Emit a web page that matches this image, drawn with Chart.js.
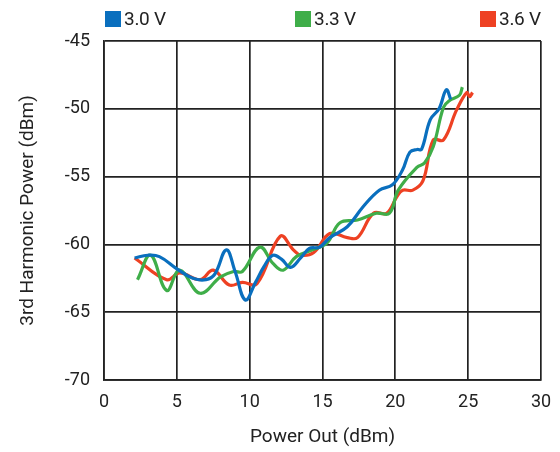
<!DOCTYPE html>
<html>
<head>
<meta charset="utf-8">
<script src="https://cdn.jsdelivr.net/npm/chart.js@4"></script>
<style>
  body { margin: 0; background: #fff; }
  #wrap { position: relative; width: 560px; height: 452px; }
  .leg { position: absolute; top: 7px; font-family: Roboto, sans-serif; font-size: 19px; color: #222; display: flex; align-items: center; letter-spacing: -0.3px; }
  .leg span { display: inline-block; width: 16px; height: 16px; margin-right: 3px; }
</style>
</head>
<body>
<div id="wrap">
  <canvas id="chart" width="560" height="452"></canvas>
  <div class="leg" style="left:105px"><span style="background:#0a6fbe"></span>3.0 V</div>
  <div class="leg" style="left:295px"><span style="background:#3fae49"></span>3.3 V</div>
  <div class="leg" style="left:480px"><span style="background:#ee4123"></span>3.6 V</div>
</div>
<script>
// Datos (Power Out en dBm, 3er armónico en dBm)
const x30 = [2.1, 3.0, 3.8, 5.0, 6.1, 7.0, 7.6, 8.4, 9.0, 9.7, 10.4, 11.0, 11.6, 12.2, 12.8, 13.5, 14.1, 14.8, 15.5, 16.7, 17.8, 18.9, 19.8, 20.5, 21.0, 21.5, 21.8, 22.4, 23.0, 23.5, 23.8];
const y30 = [-61.0, -60.8, -60.9, -61.8, -62.5, -62.6, -62.2, -60.4, -62.0, -64.1, -62.8, -61.6, -60.8, -61.1, -61.7, -61.0, -60.3, -60.2, -59.5, -58.7, -57.2, -56.0, -55.6, -54.5, -53.2, -53.0, -53.0, -50.8, -50.0, -48.6, -49.3];

const x33 = [2.3, 3.2, 4.3, 5.2, 6.6, 8.0, 8.9, 9.5, 10.7, 11.6, 12.3, 13.2, 14.3, 15.3, 16.2, 17.4, 18.7, 19.6, 20.2, 21.5, 22.0, 22.6, 23.3, 23.7, 24.4, 24.6];
const y33 = [-62.6, -60.8, -63.4, -61.9, -63.6, -62.4, -62.0, -62.0, -60.2, -61.4, -61.9, -60.9, -60.4, -59.9, -58.4, -58.2, -57.7, -57.7, -56.0, -54.3, -54.0, -52.8, -49.9, -49.4, -49.0, -48.4];

const x36 = [2.1, 4.3, 5.2, 6.6, 7.5, 8.6, 9.5, 10.5, 12.1, 13.0, 13.5, 14.4, 15.5, 16.7, 17.4, 18.5, 19.4, 20.1, 20.5, 21.2, 21.9, 22.6, 23.3, 24.2, 24.9, 25.1, 25.3];
const y36 = [-61.0, -62.6, -62.1, -62.6, -61.9, -63.0, -62.8, -62.9, -59.4, -60.4, -60.8, -60.6, -59.2, -59.5, -59.5, -57.7, -57.7, -56.5, -56.0, -56.0, -55.3, -52.3, -52.3, -50.1, -48.8, -49.1, -48.8];

const xTicks = [0, 5, 10, 15, 20, 25, 30];
const yTicks = [-45, -50, -55, -60, -65, -70];

function puntos(xs, ys) {
    return xs.map((x, i) => ({ x: x, y: ys[i] }));
}

const fuenteTicks = { family: 'Roboto, sans-serif', size: 18 };
const fuenteTitulo = { family: 'Roboto, sans-serif', size: 19 };
const grid = { color: '#222', lineWidth: 1.7, drawTicks: false };

const ctx = document.getElementById('chart').getContext('2d');
new Chart(ctx, {
    type: 'line',
    data: {
        datasets: [
            { label: '3.0 V', data: puntos(x30, y30), borderColor: '#0a6fbe' },
            { label: '3.3 V', data: puntos(x33, y33), borderColor: '#3fae49' },
            { label: '3.6 V', data: puntos(x36, y36), borderColor: '#ee4123' }
        ]
    },
    options: {
        responsive: false,
        animation: false,
        layout: { padding: { top: 41, right: 19 } },
        elements: {
            point: { radius: 0 },
            line: { borderWidth: 3.2, tension: 0.4, fill: false }
        },
        plugins: { legend: { display: false }, tooltip: { enabled: false } },
        scales: {
            x: {
                type: 'linear', min: 0, max: 30,
                afterFit: s => { s.height = 72; s.paddingLeft = 0; s.paddingRight = 0; },
                afterBuildTicks: s => { s.ticks = xTicks.map(v => ({ value: v })); },
                grid: grid,
                border: { color: '#222', width: 1.7 },
                ticks: { color: '#222', font: fuenteTicks, padding: 12 },
                title: { display: true, text: 'Power Out (dBm)', color: '#222', font: fuenteTitulo, padding: { bottom: 3 } }
            },
            y: {
                min: -70, max: -45,
                afterFit: s => { s.width = 104; },
                afterBuildTicks: s => { s.ticks = yTicks.map(v => ({ value: v })); },
                grid: grid,
                border: { color: '#222', width: 1.7 },
                ticks: { color: '#222', font: fuenteTicks, padding: 14 },
                title: { display: true, text: '3rd Harmonic Power (dBm)', color: '#222', font: fuenteTitulo, padding: { top: 17 } }
            }
        }
    }
});
</script>
</body>
</html>
